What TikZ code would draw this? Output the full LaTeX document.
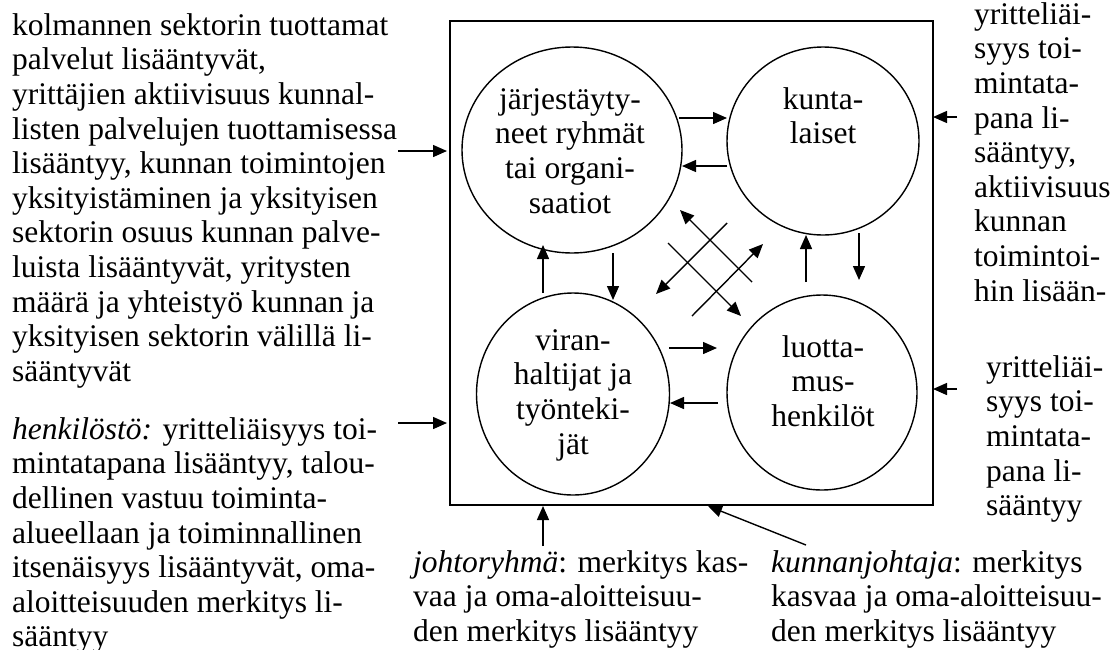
\documentclass[tikz,border=0pt]{standalone}
\usepackage{fontspec}
\setmainfont{Liberation Serif}
\usetikzlibrary{arrows.meta,shapes.geometric}
\begin{document}
\begin{tikzpicture}[x=1pt,y=-1pt,
  txt/.style={anchor=north west,align=left,inner sep=0pt,font=\fontsize{31.5}{34.6}\selectfont},
  ctxt/.style={anchor=north,align=center,inner sep=0pt,font=\fontsize{31.5}{34.6}\selectfont},
  oval/.style={draw,ellipse,line width=1.4pt,inner sep=0pt},
  frame/.style={draw,line width=1.8pt,inner sep=0pt,anchor=north west},
  arr/.style={line width=1.4pt,-{Triangle[length=14pt,width=12pt]}}]
\fill[white] (0,0) rectangle (1118,649);
\useasboundingbox (0,0) rectangle (1118,649);

% frame
\node[frame,minimum width=483pt,minimum height=484pt] (box) at (449,20) {};

% ellipses
\node[oval,minimum width=220pt,minimum height=206pt] (jr) at (572,150) {};
\node[oval,minimum width=192pt,minimum height=188pt] (kl) at (823,141) {};
\node[oval,minimum width=193pt,minimum height=202pt] (vh) at (573,394) {};
\node[oval,minimum width=190pt,minimum height=195pt] (lh) at (822,392.5) {};

% ellipse texts
\node[ctxt] (tjr) at (570,84.8) {\strut järjestäyty-\\neet ryhmät\\tai organi-\\saatiot};
\node[ctxt] (tkl) at (823,84.8) {\strut kunta-\\laiset};
\node[ctxt] (tvh) at (573,325.8) {\strut viran-\\haltijat ja\\työnteki-\\jät};
\node[ctxt] (tlh) at (823,332.8) {\strut luotta-\\mus-\\henkilöt};

% outer texts
\node[txt] (left1) at (12,10.8) {\strut kolmannen sektorin tuottamat\\palvelut lisääntyvät,\\yrittäjien aktiivisuus kunnal-\\listen palvelujen tuottamisessa\\lisääntyy, kunnan toimintojen\\yksityistäminen ja yksityisen\\sektorin osuus kunnan palve-\\luista lisääntyvät, yritysten\\määrä ja yhteistyö kunnan ja\\yksityisen sektorin välillä li-\\sääntyvät};
\node[txt] (left2) at (12,414.8) {\strut\textit{henkilöstö:} yritteliäisyys toi-\\mintatapana lisääntyy, talou-\\dellinen vastuu toiminta-\\alueellaan ja toiminnallinen\\itsenäisyys lisääntyvät, oma-\\aloitteisuuden merkitys li-\\sääntyy};
\node[txt] (right1) at (974,-0.2) {\strut yritteliäi-\\syys toi-\\mintata-\\pana li-\\sääntyy,\\aktiivisuus\\kunnan\\toimintoi-\\hin lisään-};
\node[txt] (right2) at (986,352.8) {\strut yritteliäi-\\syys toi-\\mintata-\\pana li-\\sääntyy};
\node[txt] (bot1) at (413,547.8) {\strut\textit{johtoryhmä}: merkitys kas-\\vaa ja oma-aloitteisuu-\\den merkitys lisääntyy};
\node[txt] (bot2) at (771,547.8) {\strut\textit{kunnanjohtaja}: merkitys\\kasvaa ja oma-aloitteisuu-\\den merkitys lisääntyy};

% arrow end points
\coordinate (l1s) at (398,151);   \coordinate (l1e) at (447,151);
\coordinate (l2s) at (398,423);   \coordinate (l2e) at (447,423);
\coordinate (r1s) at (957,117);   \coordinate (r1e) at (933,117);
\coordinate (r2s) at (957,389);   \coordinate (r2e) at (933,389);
\coordinate (b1s) at (543,546);   \coordinate (b1e) at (543,506);
\coordinate (b2s) at (806,545);   \coordinate (b2e) at (708,506);

\coordinate (a1s) at (679,118);   \coordinate (a1e) at (727,118);
\coordinate (a2s) at (727,166);   \coordinate (a2e) at (682,166);
\coordinate (a3s) at (669,348);   \coordinate (a3e) at (717,348);
\coordinate (a4s) at (718,403);   \coordinate (a4e) at (670,403);
\coordinate (a5s) at (543,293);   \coordinate (a5e) at (543,245);
\coordinate (a6s) at (613,253);   \coordinate (a6e) at (613,300);
\coordinate (a7s) at (806,282);   \coordinate (a7e) at (806,235);
\coordinate (a8s) at (859,233);   \coordinate (a8e) at (859,280);
\coordinate (d1s) at (727,223);   \coordinate (d1e) at (656,294);
\coordinate (d2s) at (752,282);   \coordinate (d2e) at (680,210);
\coordinate (d3s) at (668,243);   \coordinate (d3e) at (741,316);
\coordinate (d4s) at (692,316);   \coordinate (d4e) at (763,244);

\foreach \n in {l1,l2,r1,r2,b1,b2,a1,a2,a3,a4,a5,a6,a7,a8,d1,d2,d3,d4}
  \draw[arr] (\n s) -- (\n e);
\end{tikzpicture}
\end{document}
